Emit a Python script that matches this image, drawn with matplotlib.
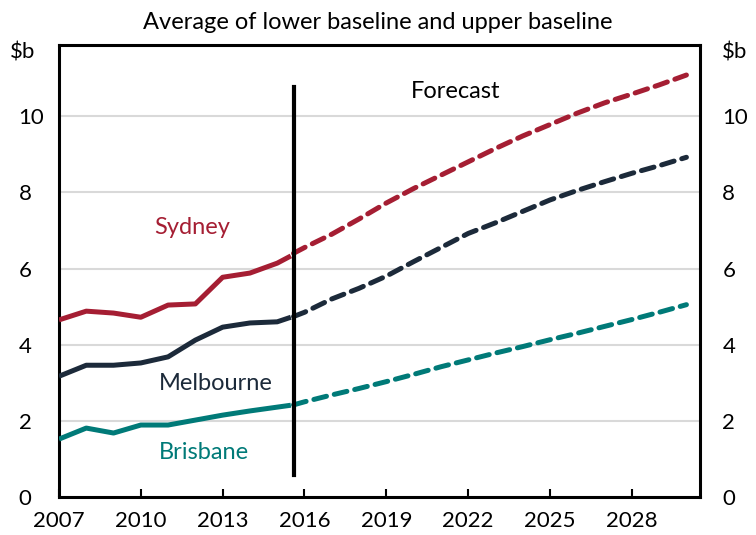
import matplotlib.pyplot as plt

# Datos
hist_years = [2007, 2008, 2009, 2010, 2011, 2012, 2013, 2014, 2015, 2015.5]
sydney_hist = [4.65, 4.88, 4.83, 4.72, 5.04, 5.07, 5.77, 5.88, 6.14, 6.33]
melbourne_hist = [3.17, 3.46, 3.46, 3.52, 3.68, 4.12, 4.46, 4.57, 4.60, 4.72]
brisbane_hist = [1.52, 1.81, 1.68, 1.89, 1.89, 2.02, 2.15, 2.26, 2.36, 2.41]

fc_years = [2015.6, 2016, 2017, 2018, 2019, 2020, 2021, 2022, 2023, 2024,
            2025, 2026, 2027, 2028, 2029, 2030]
sydney_fc = [6.40, 6.55, 6.90, 7.30, 7.72, 8.10, 8.45, 8.80, 9.15, 9.48,
             9.78, 10.08, 10.35, 10.58, 10.82, 11.08]
melbourne_fc = [4.74, 4.85, 5.20, 5.48, 5.80, 6.18, 6.55, 6.92, 7.20, 7.50,
                7.80, 8.05, 8.28, 8.50, 8.70, 8.92]
brisbane_fc = [2.42, 2.50, 2.68, 2.85, 3.03, 3.22, 3.42, 3.60, 3.78, 3.95,
               4.13, 4.30, 4.48, 4.66, 4.85, 5.05]

x_ticks = [2007, 2010, 2013, 2016, 2019, 2022, 2025, 2028]
y_ticks = [0, 2, 4, 6, 8, 10]

rojo = '#A51E33'
azul = '#1C2A3A'
verde = '#007A78'

plt.rcParams['font.family'] = ['Lato', 'DejaVu Sans']

fig = plt.figure(figsize=(7.56, 5.35), dpi=100)
ax = fig.add_axes([0.078, 0.071, 0.848, 0.845])

for years, vals, col, ls in [
    (hist_years, sydney_hist, rojo, '-'),
    (hist_years, melbourne_hist, azul, '-'),
    (hist_years, brisbane_hist, verde, '-'),
    (fc_years, sydney_fc, rojo, (0, (2.6, 1.6))),
    (fc_years, melbourne_fc, azul, (0, (2.6, 1.6))),
    (fc_years, brisbane_fc, verde, (0, (2.6, 1.6))),
]:
    ax.plot(years, vals, color=col, lw=3.6, ls=ls, solid_capstyle='butt',
            dash_capstyle='round', zorder=3)

# Línea de pronóstico
ax.plot([2015.6, 2015.6], [0.58, 10.76], color='black', lw=3, zorder=4)

ax.set_xlim(2007, 2030.5)
ax.set_ylim(0, 11.87)
ax.set_xticks(x_ticks)
ax.set_yticks(y_ticks)
ax.grid(axis='y', color='#D9D9D9', lw=1.5, zorder=0)
ax.tick_params(axis='x', direction='in', length=6, width=1.5, pad=10,
               labelsize=16)
ax.tick_params(axis='y', length=0, pad=29, labelsize=16)
for lab in ax.get_yticklabels():
    lab.set_ha('left')
for s in ax.spines.values():
    s.set_linewidth(2.2)

ax2 = ax.twinx()
ax2.set_ylim(ax.get_ylim())
ax2.set_yticks(y_ticks)
ax2.tick_params(axis='y', length=0, pad=16, labelsize=16)
for s in ax2.spines.values():
    s.set_visible(False)

ax.text(2005.2, 11.68, '$b', fontsize=16, ha='left', va='center', clip_on=False)
ax.text(2031.3, 11.68, '$b', fontsize=16, ha='left', va='center', clip_on=False)

ax.text(2011.9, 7.08, 'Sydney', color=rojo, fontsize=17, ha='center', va='center')
ax.text(2012.75, 2.97, 'Melbourne', color=azul, fontsize=17, ha='center', va='center')
ax.text(2012.3, 1.16, 'Brisbane', color=verde, fontsize=17, ha='center', va='center')
ax.text(2021.55, 10.66, 'Forecast', color='black', fontsize=17, ha='center', va='center')

fig.text(0.5, 0.958, 'Average of lower baseline and upper baseline',
         fontsize=17, ha='center', va='center')

fig.savefig('out.png', dpi=100)
